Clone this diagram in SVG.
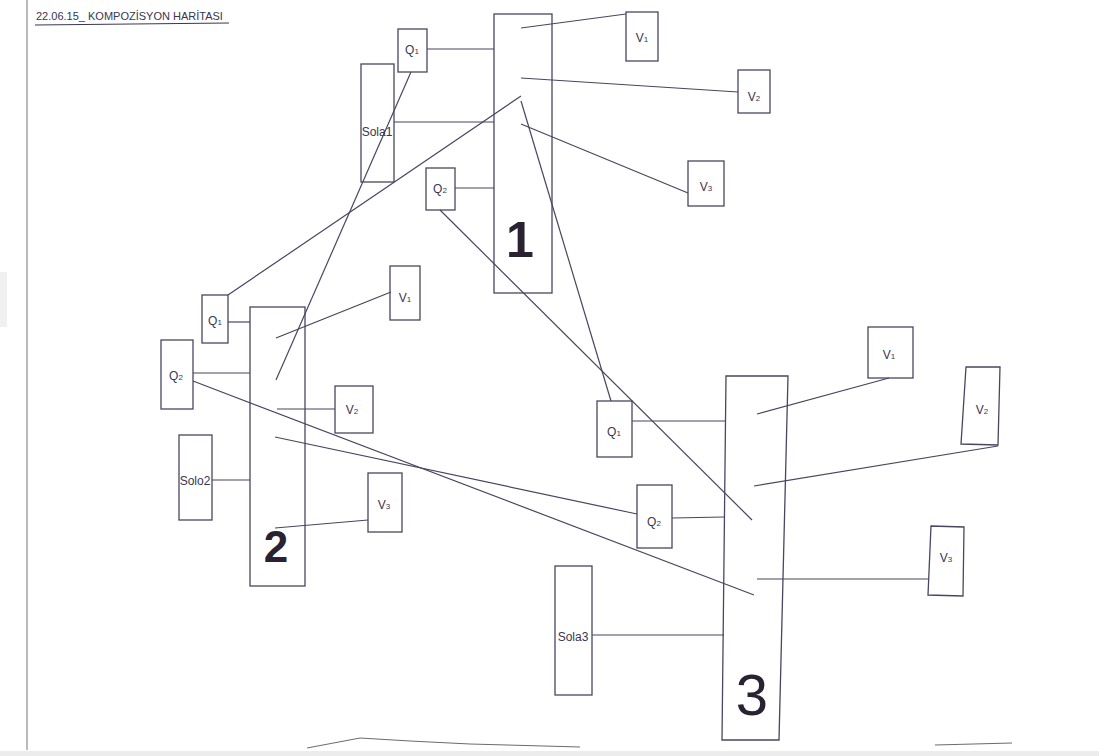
<svg xmlns="http://www.w3.org/2000/svg" width="1099" height="756" viewBox="0 0 1099 756">
<style>
.b{fill:none;stroke:#4a4560;stroke-width:1.3}
.c line,.c polyline{stroke:#4a4560;stroke-width:1.2;fill:none}
.t{font-family:"Liberation Sans",Arial,sans-serif;font-size:12px;fill:#3a3550;text-anchor:middle}
.s{font-size:8px}
.big{font-family:"Liberation Sans",Arial,sans-serif;fill:#2a2230;text-anchor:middle}
</style>
<rect width="1099" height="756" fill="#fff"/>
<rect x="0" y="751" width="1099" height="5" fill="#ececec"/>
<rect x="0" y="272" width="7" height="55" fill="#f0f0f0"/>
<line x1="27" y1="0" x2="27" y2="750" stroke="#777" stroke-width="1"/>
<g id="title">
<text x="36" y="20" font-family="Liberation Sans,Arial,sans-serif" font-size="11" fill="#3a3550">22.06.15_ KOMPOZİSYON  HARİTASI</text>
<line x1="35" y1="25" x2="229" y2="23" stroke="#3a3550" stroke-width="1"/>
</g>
<g class="c" id="connectors">
<line x1="427" y1="49" x2="494" y2="49"/>
<line x1="394" y1="122" x2="494" y2="122"/>
<line x1="455" y1="188" x2="494" y2="188"/>
<line x1="521" y1="28" x2="626" y2="14"/>
<line x1="521" y1="78" x2="738" y2="92"/>
<line x1="521" y1="124" x2="688" y2="193"/>
<line x1="521" y1="96" x2="228" y2="295"/>
<line x1="521" y1="101" x2="611" y2="401"/>
<line x1="411" y1="72" x2="276" y2="380"/>
<line x1="440" y1="210" x2="752" y2="520"/>
<line x1="228" y1="322" x2="250" y2="322"/>
<line x1="193" y1="373" x2="250" y2="373"/>
<line x1="212" y1="480" x2="250" y2="480"/>
<line x1="276" y1="338" x2="391" y2="292"/>
<line x1="277" y1="409" x2="335" y2="409"/>
<line x1="275" y1="528" x2="368" y2="520"/>
<line x1="193" y1="381" x2="754" y2="595"/>
<line x1="275" y1="437" x2="637" y2="514"/>
<line x1="632" y1="421" x2="726" y2="421"/>
<line x1="672" y1="518" x2="724" y2="517"/>
<line x1="592" y1="635" x2="724" y2="635"/>
<line x1="757" y1="414" x2="889" y2="378"/>
<line x1="754" y1="486" x2="998" y2="446"/>
<line x1="757" y1="579" x2="928" y2="579"/>
</g>
<g id="node1"><rect class="b" x="494" y="14" width="58" height="279"/><text class="big" x="520" y="257" font-size="50" font-weight="bold">1</text></g>
<g id="node1-q1"><rect class="b" x="398" y="29" width="29" height="43"/><text class="t" x="412" y="54">Q<tspan class="s">1</tspan></text></g>
<g id="node1-solo"><rect class="b" x="361" y="64" width="33" height="118"/><text class="t" x="377" y="136" font-size="10">Sola1</text></g>
<g id="node1-q2"><rect class="b" x="426" y="168" width="29" height="42"/><text class="t" x="440" y="193">Q<tspan class="s">2</tspan></text></g>
<g id="node1-v1"><rect class="b" x="626" y="12" width="32" height="49"/><text class="t" x="642" y="42">V<tspan class="s">1</tspan></text></g>
<g id="node1-v2"><rect class="b" x="738" y="70" width="32" height="43"/><text class="t" x="754" y="101">V<tspan class="s">2</tspan></text></g>
<g id="node1-v3"><rect class="b" x="688" y="161" width="36" height="45"/><text class="t" x="706" y="191">V<tspan class="s">3</tspan></text></g>
<g id="node2"><rect class="b" x="250" y="307" width="55" height="279"/><text class="big" x="276" y="562" font-size="44" font-weight="bold">2</text></g>
<g id="node2-q1"><rect class="b" x="202" y="295" width="26" height="48"/><text class="t" x="215" y="325">Q<tspan class="s">1</tspan></text></g>
<g id="node2-q2"><rect class="b" x="161" y="340" width="32" height="69"/><text class="t" x="176" y="380">Q<tspan class="s">2</tspan></text></g>
<g id="node2-solo"><rect class="b" x="179" y="435" width="33" height="85"/><text class="t" x="195" y="485" font-size="10">Solo2</text></g>
<g id="node2-v1"><rect class="b" x="390" y="266" width="30" height="54"/><text class="t" x="405" y="302">V<tspan class="s">1</tspan></text></g>
<g id="node2-v2"><rect class="b" x="335" y="386" width="38" height="47"/><text class="t" x="352" y="414">V<tspan class="s">2</tspan></text></g>
<g id="node2-v3"><rect class="b" x="368" y="473" width="34" height="59"/><text class="t" x="384" y="509">V<tspan class="s">3</tspan></text></g>
<g id="node3"><polygon class="b" points="726,376 788,376 779,740 722,740"/><text class="big" x="752" y="715" font-size="58">3</text></g>
<g id="node3-q1"><rect class="b" x="597" y="401" width="35" height="56"/><text class="t" x="614" y="436">Q<tspan class="s">1</tspan></text></g>
<g id="node3-q2"><rect class="b" x="637" y="485" width="35" height="63"/><text class="t" x="654" y="526">Q<tspan class="s">2</tspan></text></g>
<g id="node3-solo"><rect class="b" x="555" y="566" width="37" height="129"/><text class="t" x="573" y="641" font-size="11">Sola3</text></g>
<g id="node3-v1"><rect class="b" x="868" y="327" width="45" height="51"/><text class="t" x="889" y="359">V<tspan class="s">1</tspan></text></g>
<g id="node3-v2"><polygon class="b" points="966,367 1000,367 998,445 961,444"/><text class="t" x="982" y="414">V<tspan class="s">2</tspan></text></g>
<g id="node3-v3"><polygon class="b" points="931,526 964,527 963,596 928,595"/><text class="t" x="946" y="562">V<tspan class="s">3</tspan></text></g>
<g id="marks" stroke="#6a6a70" stroke-width="1" fill="none">
<polyline points="307,748 360,738 410,741 470,744 580,747"/>
<line x1="935" y1="745" x2="1012" y2="743"/>
</g>
</svg>
